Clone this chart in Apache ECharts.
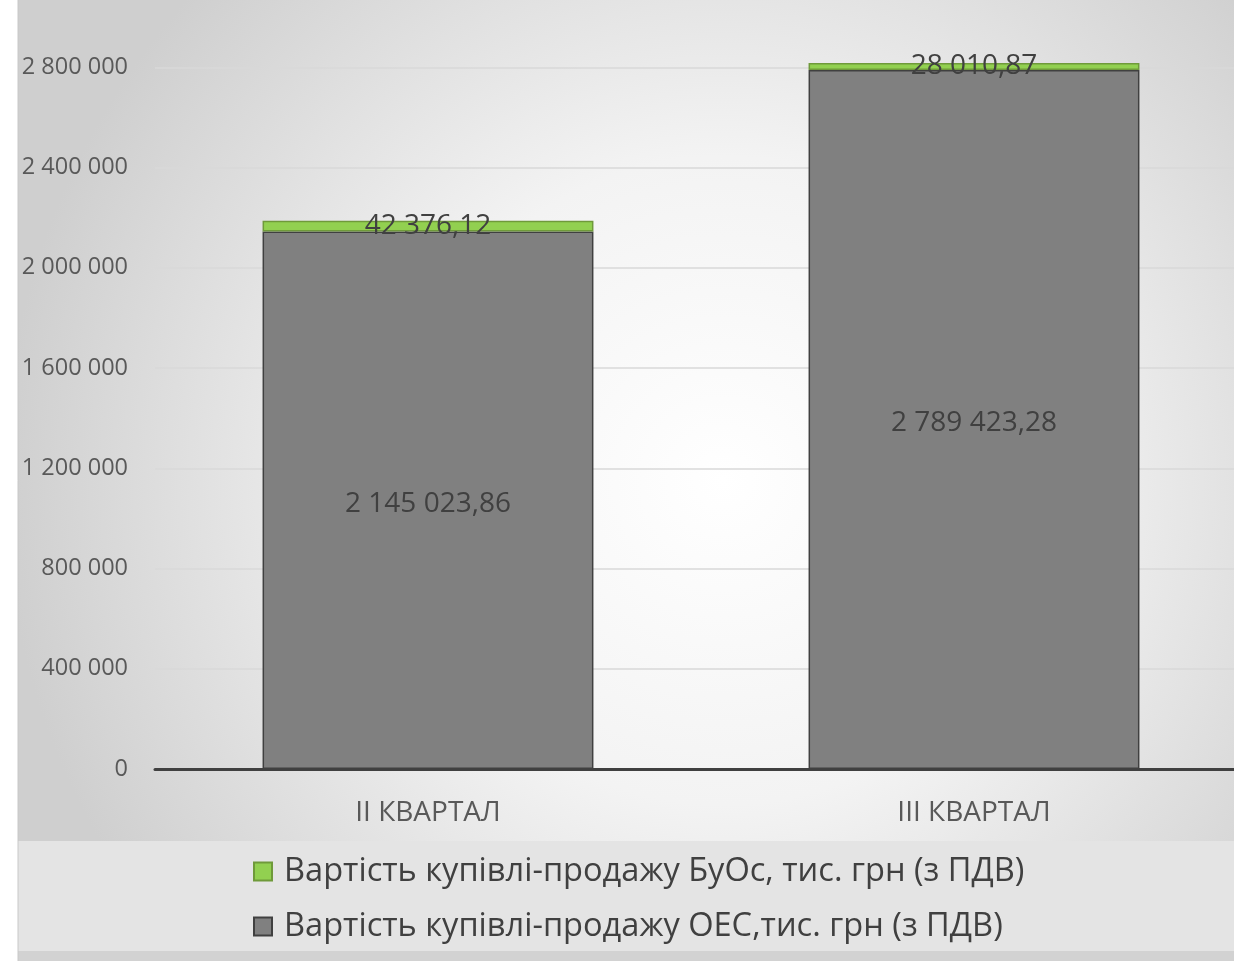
<!DOCTYPE html>
<html>
<head>
<meta charset="utf-8">
<script src="https://cdn.jsdelivr.net/npm/echarts@6/dist/echarts.min.js"></script>
<style>
html,body{margin:0;padding:0;background:#fff;}
#chart{width:1234px;height:961px;}
</style>
</head>
<body>
<div id="chart"></div>
<script>
var categories = ['II КВАРТАЛ', 'III КВАРТАЛ'];
var oecValues = [2145023.86, 2789423.28];
var buosValues = [42376.12, 28010.87];
var seriesNames = ['Вартість купівлі-продажу БуОс, тис. грн (з ПДВ)', 'Вартість купівлі-продажу ОЕС,тис. грн (з ПДВ)'];

function fmtNum(v, dec) {
  var parts = v.toFixed(dec).split('.');
  var intPart = parts[0].replace(/\B(?=(\d{3})+(?!\d))/g, ' ');
  return dec ? intPart + ',' + parts[1] : intPart;
}

var chart = echarts.init(document.getElementById('chart'), null, {renderer: 'canvas'});
var FONT = 'Open Sans';
chart.setOption({
  backgroundColor: '#ffffff',
  animation: false,
  graphic: [
    {type: 'rect', z: -10, silent: true, shape: {x: 18, y: 0, width: 1216, height: 961},
     style: {fill: new echarts.graphic.RadialGradient(0.58, 0.5, 0.75, [
       {offset: 0, color: '#ffffff'}, {offset: 0.45, color: '#f3f3f3'}, {offset: 1, color: '#cfcfcf'}])}},
    {type: 'rect', z: -9, silent: true, shape: {x: 18, y: 841, width: 1216, height: 110},
     style: {fill: '#e4e4e4'}},
    {type: 'rect', z: -9, silent: true, shape: {x: 18, y: 951, width: 1216, height: 10},
     style: {fill: '#d2d2d2'}},
    {type: 'line', z: -8, silent: true, shape: {x1: 18, y1: 0, x2: 18, y2: 961},
     style: {stroke: '#c8c8c8', lineWidth: 1}}
  ],
  grid: {left: 155, right: -13, top: -33, bottom: 192, containLabel: false, outerBoundsMode: 'none'},
  legend: {
    orient: 'vertical', left: 248, top: 850,
    icon: 'rect', itemWidth: 18, itemHeight: 18, itemGap: 22,
    textStyle: {fontFamily: FONT, fontSize: 32.6, color: '#404040', lineHeight: 31, padding: [0, 0, 0, 7]},
    data: [seriesNames[0], seriesNames[1]]
  },
  xAxis: {
    type: 'category', data: categories,
    axisLine: {lineStyle: {color: '#404040', width: 3}},
    axisTick: {show: false},
    axisLabel: {fontFamily: FONT, fontSize: 28, color: '#595959', margin: 30}
  },
  yAxis: {
    type: 'value', min: 0, max: 3200000, interval: 400000,
    axisLine: {show: false}, axisTick: {show: false},
    splitLine: {lineStyle: {color: '#d9d9d9', width: 1.5}},
    axisLabel: {fontFamily: FONT, fontSize: 23.5, color: '#595959', margin: 27,
      formatter: function (v) { return fmtNum(v, 0); }}
  },
  series: [
    {
      name: seriesNames[1], type: 'bar', stack: 'total', data: oecValues,
      barCategoryGap: '39.4%',
      itemStyle: {color: '#808080', borderColor: '#404040', borderWidth: 1.5},
      label: {show: true, position: 'inside', offset: [0, 4], fontFamily: FONT, fontSize: 28, color: '#404040',
        formatter: function (p) { return fmtNum(p.value, 2); }}
    },
    {
      name: seriesNames[0], type: 'bar', stack: 'total', data: buosValues,
      barCategoryGap: '39.4%',
      itemStyle: {color: '#92d050', borderColor: '#6f9a3a', borderWidth: 1.5},
      label: {show: true, position: 'inside', offset: [0, 0], fontFamily: FONT, fontSize: 28, color: '#404040',
        formatter: function (p) { return fmtNum(p.value, 2); }}
    }
  ]
});
</script>
</body>
</html>
